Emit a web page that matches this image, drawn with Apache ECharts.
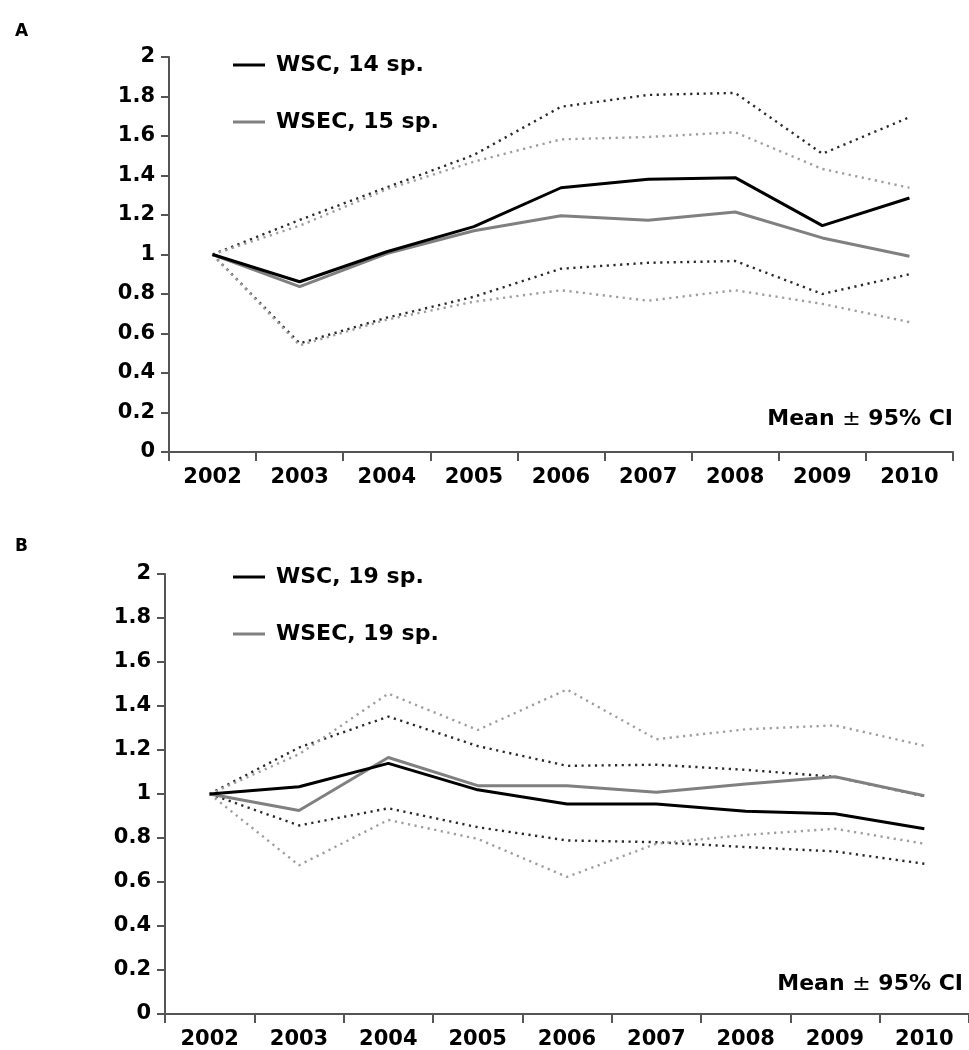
<!DOCTYPE html>
<html>
<head>
<meta charset="utf-8">
<script src="https://cdn.jsdelivr.net/npm/echarts@6/dist/echarts.min.js"></script>
<style>
html,body{margin:0;padding:0;background:#fff;}
#chart{width:969px;height:1050px;}
</style>
</head>
<body>
<div id="chart"></div>
<script>
// ---- data ----
const years = ['2002','2003','2004','2005','2006','2007','2008','2009','2010'];

// Panel A
const A_wsc      = [1.0, 0.862, 1.014, 1.141, 1.338, 1.381, 1.389, 1.146, 1.286];
const A_wsec     = [1.0, 0.837, 1.005, 1.120, 1.196, 1.173, 1.215, 1.084, 0.991];
const A_wscUp    = [1.0, 1.175, 1.340, 1.504, 1.748, 1.808, 1.818, 1.510, 1.695];
const A_wscLo    = [1.0, 0.550, 0.680, 0.786, 0.928, 0.958, 0.967, 0.800, 0.900];
const A_wsecUp   = [1.0, 1.146, 1.330, 1.470, 1.583, 1.595, 1.619, 1.433, 1.338];
const A_wsecLo   = [1.0, 0.540, 0.670, 0.761, 0.819, 0.766, 0.819, 0.750, 0.658];

// Panel B
const B_wsc      = [1.0, 1.033, 1.139, 1.019, 0.955, 0.955, 0.922, 0.910, 0.842];
const B_wsec     = [1.0, 0.925, 1.166, 1.038, 1.038, 1.008, 1.045, 1.078, 0.992];
const B_wscUp    = [1.0, 1.211, 1.352, 1.218, 1.128, 1.133, 1.110, 1.078, 0.990];
const B_wscLo    = [1.0, 0.857, 0.935, 0.849, 0.789, 0.781, 0.759, 0.739, 0.683];
const B_wsecUp   = [1.0, 1.181, 1.456, 1.291, 1.475, 1.249, 1.294, 1.312, 1.219];
const B_wsecLo   = [1.0, 0.676, 0.882, 0.796, 0.623, 0.774, 0.814, 0.842, 0.774];

const namesA = ['WSC, 14 sp.', 'WSEC, 15 sp.'];
const namesB = ['WSC, 19 sp.', 'WSEC, 19 sp.'];
const panelLabels = ['A', 'B'];
const noteText = 'Mean {pm|±} 95% CI';

// ---- styling ----
const FONT = '"DejaVu Sans", "Liberation Sans", sans-serif';
const BLACK = '#000000';
const GRAY = '#808080';
const DOT_BLACK = '#2a2a2a';
const DOT_GRAY = '#9e9e9e';
const AXIS = '#555555';

function xAxis(gi){
  return {
    type:'category', gridIndex:gi, data:years, boundaryGap:true,
    axisLine:{lineStyle:{color:AXIS,width:2}},
    axisTick:{show:true,length:9,inside:false,lineStyle:{color:AXIS,width:2}},
    axisLabel:{color:'#000',fontFamily:FONT,fontWeight:'bold',fontSize:21,margin:15},
    splitLine:{show:false}
  };
}
function yAxis(gi){
  return {
    type:'value', gridIndex:gi, min:0, max:2, interval:0.2,
    axisLine:{show:true,lineStyle:{color:AXIS,width:2}},
    axisTick:{show:true,length:8,lineStyle:{color:AXIS,width:2}},
    axisLabel:{color:'#000',fontFamily:FONT,fontWeight:'bold',fontSize:21,margin:14},
    splitLine:{show:false}
  };
}
function meanSeries(name, data, gi, color){
  return {type:'line', name:name, data:data, xAxisIndex:gi, yAxisIndex:gi,
    symbol:'none', lineStyle:{color:color,width:3}, itemStyle:{color:color}, z:5, silent:true};
}
function ciSeries(data, gi, color){
  return {type:'line', data:data, xAxisIndex:gi, yAxisIndex:gi,
    symbol:'none', lineStyle:{color:color,width:2.4,type:[2.2,4.5]}, z:3, silent:true};
}
function legend(names, left, top){
  return {
    orient:'vertical', left:left, top:top, data:names,
    icon:'rect', itemWidth:32, itemHeight:3, itemGap:33,
    selectedMode:false,
    textStyle:{color:'#000',fontFamily:FONT,fontWeight:'bold',fontSize:22,lineHeight:24,padding:[0,0,0,6]}
  };
}

const chart = echarts.init(document.getElementById('chart'), null, {renderer:'canvas'});
chart.setOption({
  animation:false,
  backgroundColor:'#fff',
  grid:[
    {left:169, top:57, width:784, height:395},
    {left:165, top:574, width:804, height:442}
  ],
  xAxis:[xAxis(0), xAxis(1)],
  yAxis:[yAxis(0), yAxis(1)],
  legend:[ legend(namesA, 228, 48), legend(namesB, 228, 560) ],
  title:[
    {text:panelLabels[0], left:10, top:18, textStyle:{fontFamily:FONT,fontWeight:'bold',fontSize:17,color:'#000'}},
    {text:panelLabels[1], left:10, top:533, textStyle:{fontFamily:FONT,fontWeight:'bold',fontSize:17,color:'#000'}}
  ],
  graphic:[
    {type:'text', right:16, top:408, style:{text:noteText, fill:'#000',
      font:'bold 22px ' + FONT,
      rich:{pm:{fontFamily:FONT,fontWeight:'normal',fontSize:22,fill:'#000'}}}},
    {type:'text', right:6, top:973, style:{text:noteText, fill:'#000',
      font:'bold 22px ' + FONT,
      rich:{pm:{fontFamily:FONT,fontWeight:'normal',fontSize:22,fill:'#000'}}}}
  ],
  series:[
    ciSeries(A_wscUp,0,DOT_BLACK), ciSeries(A_wscLo,0,DOT_BLACK),
    ciSeries(A_wsecUp,0,DOT_GRAY), ciSeries(A_wsecLo,0,DOT_GRAY),
    meanSeries(namesA[1], A_wsec, 0, GRAY),
    meanSeries(namesA[0], A_wsc, 0, BLACK),
    ciSeries(B_wscUp,1,DOT_BLACK), ciSeries(B_wscLo,1,DOT_BLACK),
    ciSeries(B_wsecUp,1,DOT_GRAY), ciSeries(B_wsecLo,1,DOT_GRAY),
    meanSeries(namesB[1], B_wsec, 1, GRAY),
    meanSeries(namesB[0], B_wsc, 1, BLACK)
  ]
});
</script>
</body>
</html>
